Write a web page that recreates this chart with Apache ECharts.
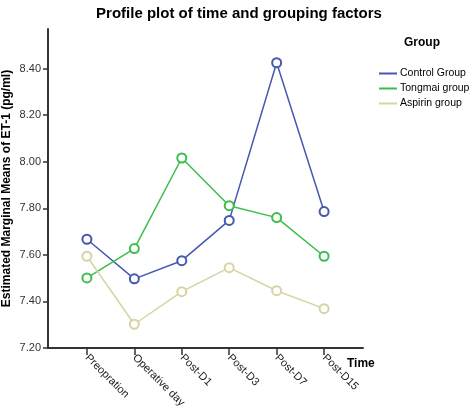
<!DOCTYPE html>
<html>
<head>
<meta charset="utf-8">
<script src="https://cdn.jsdelivr.net/npm/echarts@6/dist/echarts.min.js"></script>
<style>
html, body { margin: 0; padding: 0; background: #fff; }
#container { width: 472px; height: 420px; }
</style>
</head>
<body>
<div id="container"></div>
<script>
var timePoints = ['Preopration', 'Operative day', 'Post-D1', 'Post-D3', 'Post-D7', 'Post-D15'];
var groupNames = ['Control Group', 'Tongmai group', 'Aspirin group'];
var controlValues = [7.667, 7.497, 7.575, 7.748, 8.425, 7.786];
var tongmaiValues = [7.501, 7.627, 8.016, 7.811, 7.760, 7.594];
var aspirinValues = [7.594, 7.302, 7.442, 7.545, 7.446, 7.369];
var yTicks = [7.2, 7.4, 7.6, 7.8, 8.0, 8.2, 8.4];

var colors = ['#4458b0', '#3dbd4c', '#d8d3a2'];
var font = 'Arial, "Liberation Sans", sans-serif';

var dom = document.getElementById("container");
var myChart = echarts.init(dom);

// pair each value with its time index so the x axis can be a value axis
function toPoints(values) {
    var pts = [];
    for (var i = 0; i < values.length; i++) {
        pts.push([i, values[i]]);
    }
    return pts;
}
var tickIdx = timePoints.map(function (t, i) { return i; });

function makeSeries(name, values, color) {
    return {
        name: name,
        type: 'line',
        data: toPoints(values),
        symbol: 'emptyCircle',
        symbolSize: 9,
        lineStyle: { color: color, width: 1.5 },
        itemStyle: { color: color, borderWidth: 1 },
        emphasis: { disabled: true }
    };
}

var option = {
    animation: false,
    title: {
        text: 'Profile plot of time and grouping factors',
        left: 234,
        top: 1,
        textAlign: 'center',
        textStyle: { fontFamily: font, fontSize: 15, fontWeight: 'bold', color: '#000' }
    },
    legend: {
        orient: 'vertical',
        left: 374,
        top: 63,
        itemWidth: 18,
        itemHeight: 2,
        itemGap: 4,
        icon: 'rect',
        data: groupNames,
        textStyle: { fontFamily: font, fontSize: 10.5, color: '#000', padding: [0, 0, 0, -2] }
    },
    graphic: [{
        type: 'text',
        left: 404,
        top: 37,
        style: { text: 'Group', fontFamily: font, fontSize: 12, fontWeight: 'bold', fill: '#000' }
    }, {
        type: 'text',
        left: 347,
        top: 358,
        style: { text: 'Time', fontFamily: font, fontSize: 12, fontWeight: 'bold', fill: '#000' }
    }],
    grid: { left: 48, right: 109, top: 29, bottom: 72, containLabel: false, outerBoundsMode: 'none' },
    xAxis: {
        type: 'value',
        min: -0.82,
        max: 5.82,
        splitLine: { show: false },
        axisLine: { onZero: false, lineStyle: { color: '#333', width: 2 } },
        axisTick: { customValues: tickIdx, length: 7, lineStyle: { color: '#333', width: 1.5 } },
        axisLabel: {
            customValues: tickIdx,
            rotate: -45,
            margin: 8,
            fontFamily: font,
            fontSize: 11,
            color: '#222',
            formatter: function (v) { return timePoints[Math.round(v)]; }
        }
    },
    yAxis: {
        type: 'value',
        min: 7.2,
        max: 8.57,
        name: 'Estimated Marginal Means of ET-1 (pg/ml)',
        nameLocation: 'middle',
        nameGap: 35,
        nameMoveOverlap: false,
        nameTextStyle: { fontFamily: font, fontSize: 12, fontWeight: 'bold', color: '#000' },
        splitLine: { show: false },
        axisLine: { show: true, onZero: false, lineStyle: { color: '#333', width: 2 } },
        axisTick: { show: true, customValues: yTicks, length: 5, lineStyle: { color: '#333', width: 1.5 } },
        axisLabel: {
            customValues: yTicks,
            margin: 7,
            fontFamily: font,
            fontSize: 11,
            color: '#333',
            formatter: function (v) { return v.toFixed(2); }
        }
    },
    color: colors,
    series: [
        makeSeries(groupNames[0], controlValues, colors[0]),
        makeSeries(groupNames[1], tongmaiValues, colors[1]),
        makeSeries(groupNames[2], aspirinValues, colors[2])
    ]
};
if (option && typeof option === "object") {
    myChart.setOption(option, true);
}
</script>
</body>
</html>
